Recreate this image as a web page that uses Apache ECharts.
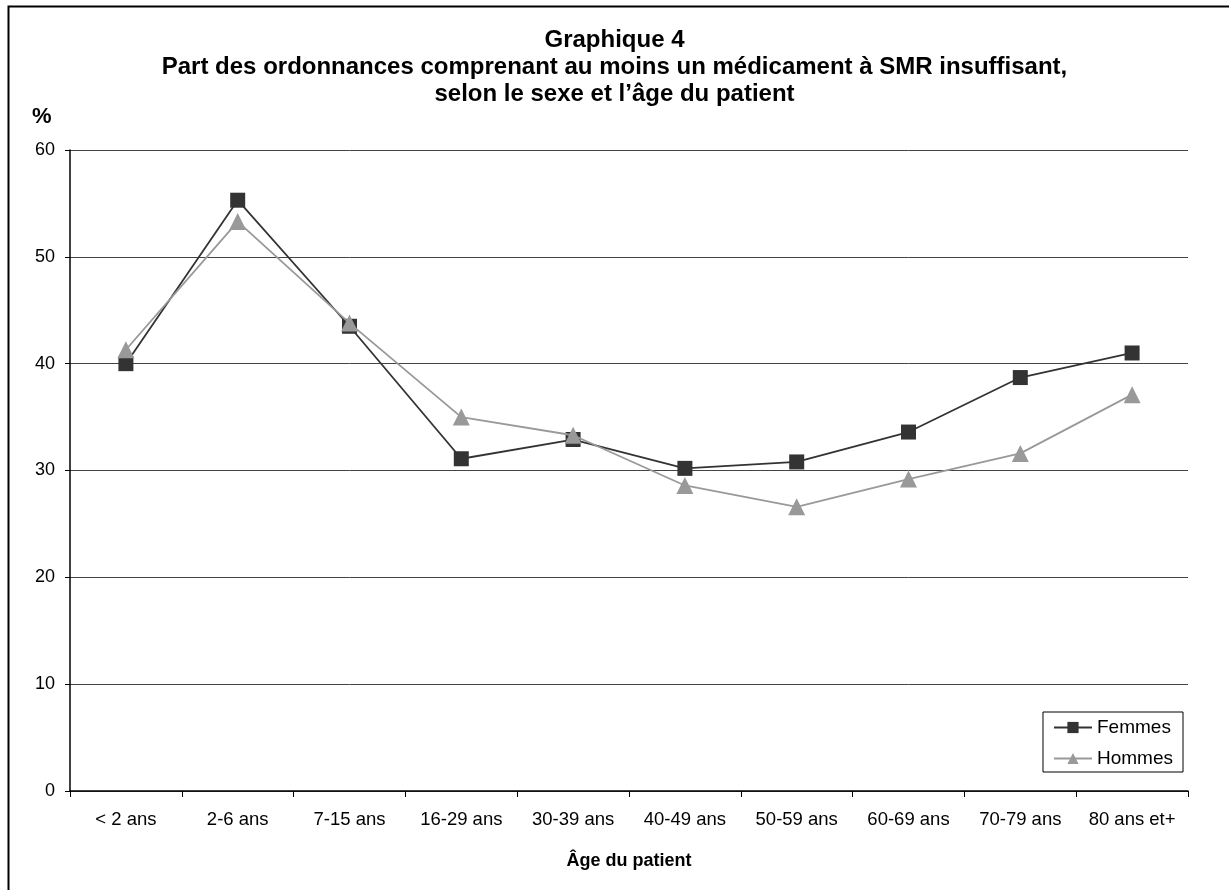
<!DOCTYPE html>
<html><head><meta charset="utf-8">
<script src="https://cdn.jsdelivr.net/npm/echarts@6/dist/echarts.min.js"></script>
<style>html,body{margin:0;padding:0;background:#fff}#c{width:1229px;height:890px}</style>
</head><body><div id="c"></div>
<script>
const categories = ['< 2 ans','2-6 ans','7-15 ans','16-29 ans','30-39 ans','40-49 ans','50-59 ans','60-69 ans','70-79 ans','80 ans et+'];
const femmes = [40.0, 55.3, 43.5, 31.1, 32.9, 30.2, 30.8, 33.6, 38.7, 41.0];
const hommes = [41.3, 53.3, 43.8, 35.0, 33.3, 28.6, 26.6, 29.2, 31.6, 37.1];
const yTicks = [0, 10, 20, 30, 40, 50, 60];
const F = 'Arial, "Liberation Sans", sans-serif';
const chart = echarts.init(document.getElementById('c'), null, {renderer:'canvas'});
chart.setOption({
  animation: false,
  backgroundColor: '#fff',
  graphic: [
    {type:'rect', left:6, top:4, shape:{width:1400, height:1000}, style:{fill:'none', stroke:'#000', lineWidth:2}, silent:true},
    {type:'text', left:32, top:106, style:{text:'%', font:'bold 22px '+F, fill:'#000'}}
  ],
  title: {
    text: 'Graphique 4\nPart des ordonnances comprenant au moins un médicament à SMR insuffisant,\nselon le sexe et l\u2019âge du patient',
    left: 'center', top: 22,
    textStyle: {fontFamily: F, fontWeight: 'bold', fontSize: 24, lineHeight: 27, color: '#000'}
  },
  legend: {
    right: 46, top: 712, orient: 'vertical',
    borderColor: '#000', borderWidth: 1, padding: [6, 10, 4, 10],
    itemWidth: 38, itemHeight: 14, itemGap: 12,
    textStyle: {fontFamily: F, fontSize: 19, color: '#000'},
    data: ['Femmes', 'Hommes']
  },
  grid: {left: 70, right: 41, top: 150, bottom: 99, containLabel: false},
  xAxis: {
    type: 'category', data: categories, boundaryGap: true,
    name: 'Âge du patient', nameLocation: 'middle', nameGap: 61,
    nameTextStyle: {fontFamily: F, fontWeight: 'bold', fontSize: 18, color: '#000'},
    axisLine: {lineStyle: {color: '#000', width: 1.5}},
    axisTick: {show: true, alignWithLabel: false, length: 6, lineStyle: {color: '#000'}},
    axisLabel: {fontFamily: F, fontSize: 18.5, color: '#000', margin: 19, interval: 0}
  },
  yAxis: {
    type: 'value', min: 0, max: 60, interval: 10,
    axisLine: {show: true, lineStyle: {color: '#000', width: 1.5}},
    axisTick: {show: true, length: 5, lineStyle: {color: '#000'}},
    axisLabel: {fontFamily: F, fontSize: 18, color: '#000', margin: 15,
      formatter: v => yTicks.includes(v) ? String(v) : ''},
    splitLine: {show: true, lineStyle: {color: '#444', width: 1}}
  },
  series: [
    {name: 'Femmes', type: 'line', data: femmes, symbol: 'rect', symbolSize: 15,
     itemStyle: {color: '#333'}, lineStyle: {color: '#333', width: 1.8}, z: 3},
    {name: 'Hommes', type: 'line', data: hommes, symbol: 'triangle', symbolSize: 17,
     itemStyle: {color: '#999'}, lineStyle: {color: '#999', width: 1.8}, z: 4}
  ]
});
</script></body></html>
